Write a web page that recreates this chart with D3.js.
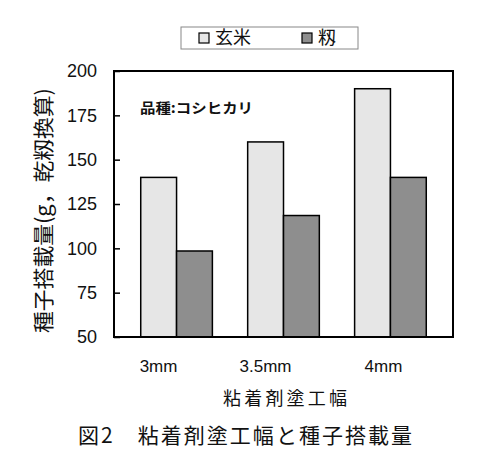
<!DOCTYPE html>
<html>
<head>
<meta charset="utf-8">
<script src="https://cdn.jsdelivr.net/npm/d3@7"></script>
<style>
  body { margin: 0; background: #fff; }
  text { font-family: "Noto Sans CJK JP", "Liberation Sans", sans-serif; fill: #111; }
  .num { font-family: "Liberation Sans", Arial, sans-serif; }
</style>
</head>
<body>
<script>
var width = 482, height = 475;

// data
var widths = ["3mm", "3.5mm", "4mm"];
var series = ["玄米", "籾"];
var brownRice = [140, 160, 190];
var paddy = [98.5, 118.5, 140];
var yTicks = [50, 75, 100, 125, 150, 175, 200];

var colors = { "玄米": "#e6e6e6", "籾": "#8e8e8e" };

// plot box (don't use "top" at global scope, it's window.top)
var pl = 114, pr = 453, pt = 71, pb = 337;

var svg = d3.select("body").append("svg")
  .attr("width", width)
  .attr("height", height);

var x = d3.scaleBand().domain(widths).range([pl, pr])
  .paddingInner(0.33).paddingOuter(0.25);
var xs = d3.scaleBand().domain(series).range([0, x.bandwidth()]);
var y = d3.scaleLinear().domain([50, 200]).range([pb, pt]);

var rows = widths.map(function(w, i) {
  return { w: w, vals: [{ s: "玄米", v: brownRice[i] }, { s: "籾", v: paddy[i] }] };
});

// bars
var g = svg.append("g");
g.selectAll("g.grp").data(rows).enter().append("g")
  .attr("class", "grp")
  .attr("transform", function(d) { return "translate(" + x(d.w) + ",0)"; })
  .selectAll("rect").data(function(d) { return d.vals; })
  .enter().append("rect")
  .attr("x", function(d) { return xs(d.s); })
  .attr("y", function(d) { return y(d.v); })
  .attr("width", xs.bandwidth())
  .attr("height", function(d) { return pb - y(d.v); })
  .attr("fill", function(d) { return colors[d.s]; })
  .attr("stroke", "#000").attr("stroke-width", 1.5);

// frame
svg.append("rect")
  .attr("x", pl).attr("y", pt)
  .attr("width", pr - pl).attr("height", pb - pt)
  .attr("fill", "none").attr("stroke", "#000").attr("stroke-width", 2);

// y axis, ticks pointing inside
var yAxis = svg.append("g")
  .attr("transform", "translate(" + pl + ",0)")
  .call(d3.axisRight(y).tickValues(yTicks).tickSize(6).tickFormat(""));
yAxis.select(".domain").remove();
yAxis.selectAll("line").attr("stroke", "#000").attr("stroke-width", 1.5);

svg.append("g").selectAll("text").data(yTicks).enter().append("text")
  .attr("class", "num")
  .attr("x", 97).attr("y", function(d) { return y(d); })
  .attr("dy", "0.36em")
  .attr("text-anchor", "end")
  .attr("font-size", 18)
  .text(function(d) { return d; });

// x labels (they sit a bit left of the bar pairs in the original)
var xOff = { "3mm": -18, "3.5mm": -18, "4mm": -7 };
svg.append("g").selectAll("text").data(widths).enter().append("text")
  .attr("class", "num")
  .attr("x", function(d) { return x(d) + x.bandwidth() / 2 + xOff[d]; })
  .attr("y", 372)
  .attr("text-anchor", "middle")
  .attr("font-size", 17)
  .text(function(d) { return d; });

svg.append("text")
  .attr("x", 223).attr("y", 405)
  .attr("font-size", 18)
  .attr("textLength", 124).attr("lengthAdjust", "spacing")
  .text("粘着剤塗工幅");

svg.append("text")
  .attr("transform", "translate(51,333) rotate(-90)")
  .attr("font-size", 21)
  .attr("textLength", 245).attr("lengthAdjust", "spacingAndGlyphs")
  .text("種子搭載量(g，乾籾換算)");

svg.append("text")
  .attr("x", 140).attr("y", 113)
  .attr("font-size", 14)
  .attr("font-weight", "bold")
  .attr("textLength", 113).attr("lengthAdjust", "spacingAndGlyphs")
  .text("品種:コシヒカリ");

// legend
var lg = svg.append("g");
lg.append("rect")
  .attr("x", 181).attr("y", 27).attr("width", 177).attr("height", 22)
  .attr("fill", "#fff").attr("stroke", "#888").attr("stroke-width", 1);
var legX = { "玄米": 199, "籾": 302 };
var items = lg.selectAll("g.it").data(series).enter().append("g")
  .attr("class", "it")
  .attr("transform", function(d) { return "translate(" + legX[d] + ",38)"; });
items.append("rect")
  .attr("x", 0).attr("y", -5).attr("width", 10).attr("height", 10)
  .attr("fill", function(d) { return colors[d]; })
  .attr("stroke", "#000").attr("stroke-width", 1.2);
items.append("text")
  .attr("x", 16).attr("dy", "0.36em")
  .attr("font-size", 18)
  .text(function(d) { return d; });

// caption
svg.append("text")
  .attr("x", 78).attr("y", 443)
  .attr("font-size", 21)
  .attr("textLength", 334).attr("lengthAdjust", "spacing")
  .text("図2　粘着剤塗工幅と種子搭載量");
</script>
</body>
</html>
